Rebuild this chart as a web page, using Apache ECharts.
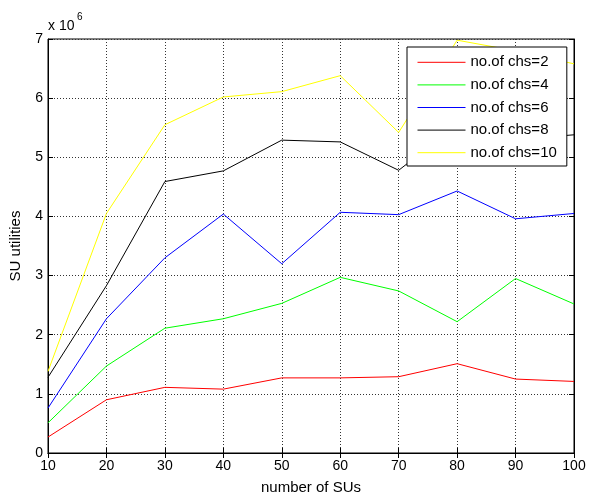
<!DOCTYPE html>
<html>
<head>
<meta charset="utf-8">
<script src="https://cdn.jsdelivr.net/npm/echarts@6/dist/echarts.min.js"></script>
<style>
  html, body { margin: 0; padding: 0; background: #fff; }
  #chart { width: 590px; height: 492px; }
</style>
</head>
<body>
<div id="chart"></div>
<script>
// Number of secondary users (x axis)
const numSUs = [10, 20, 30, 40, 50, 60, 70, 80, 90, 100];

// SU utilities (in units of 1e6) for each number of channels
const chs2  = [0.27, 0.90, 1.11, 1.08, 1.27, 1.27, 1.29, 1.51, 1.25, 1.21];
const chs4  = [0.51, 1.47, 2.11, 2.27, 2.53, 2.97, 2.74, 2.22, 2.95, 2.52];
const chs6  = [0.76, 2.27, 3.30, 4.04, 3.20, 4.07, 4.03, 4.43, 3.96, 4.05];
const chs8  = [1.28, 2.83, 4.59, 4.77, 5.29, 5.26, 4.78, 5.55, 5.30, 5.38];
const chs10 = [1.38, 4.05, 5.55, 6.02, 6.11, 6.38, 5.42, 6.98, 6.80, 6.58];

const seriesNames = ['no.of chs=2', 'no.of chs=4', 'no.of chs=6', 'no.of chs=8', 'no.of chs=10'];
const seriesData = [chs2, chs4, chs6, chs8, chs10];
const seriesColors = ['#ff0000', '#00ff00', '#0000ff', '#000000', '#ffff00'];

const xTicks = [10, 20, 30, 40, 50, 60, 70, 80, 90, 100];
const yTicks = [0, 1, 2, 3, 4, 5, 6, 7];

const FONT = '"Liberation Sans", Arial, sans-serif';

const chart = echarts.init(document.getElementById('chart'), null, { renderer: 'canvas' });

const gridLine = { show: true, lineStyle: { color: '#333', type: [1, 2], width: 1 } };
const tickStyle = { show: true, inside: true, length: 5, lineStyle: { color: '#000' } };

const option = {
  animation: false,
  backgroundColor: '#fff',
  textStyle: { fontFamily: FONT },
  graphic: [
    // exponent marker for the y axis
    { type: 'text', left: 48, top: 19, style: { text: 'x 10', font: '14px ' + FONT, fill: '#000' } },
    { type: 'text', left: 77, top: 12, style: { text: '6', font: '10px ' + FONT, fill: '#000' } }
  ],
  grid: {
    left: 48, right: 16, top: 39, bottom: 39,
    containLabel: false,
    outerBoundsMode: 'none',
    show: true, borderColor: '#000', borderWidth: 1, backgroundColor: '#fff'
  },
  legend: {
    orient: 'vertical',
    left: 407,
    top: 47,
    z: 10,
    padding: [4, 10, 2, 10],
    itemGap: 0,
    itemWidth: 48,
    itemHeight: 14,
    // line-only samples: the marker part of the icon is hidden
    itemStyle: { opacity: 0 },
    backgroundColor: '#fff',
    borderColor: '#000',
    borderWidth: 1,
    textStyle: { fontFamily: FONT, fontSize: 15, color: '#000', lineHeight: 22.6 },
    data: seriesNames.map((name, i) => ({
      name: name,
      lineStyle: { color: seriesColors[i], width: 1, opacity: 1 }
    }))
  },
  xAxis: [{
    type: 'value',
    min: 10, max: 100, interval: 10,
    name: 'number of SUs',
    nameLocation: 'middle',
    nameGap: 27,
    nameTextStyle: { fontFamily: FONT, fontSize: 15, color: '#000' },
    axisLine: { show: true, onZero: false, lineStyle: { color: '#000' } },
    axisTick: tickStyle,
    axisLabel: {
      fontFamily: FONT, fontSize: 14, color: '#000', margin: 6,
      formatter: v => (xTicks.indexOf(v) >= 0 ? String(v) : '')
    },
    splitLine: gridLine
  }, {
    type: 'value', position: 'top',
    min: 10, max: 100, interval: 10,
    axisLine: { show: true, lineStyle: { color: '#000' } },
    axisTick: tickStyle,
    axisLabel: { show: false },
    splitLine: { show: false }
  }],
  yAxis: [{
    type: 'value',
    min: 0, max: 7, interval: 1,
    name: 'SU utilities',
    nameLocation: 'middle',
    nameGap: 25,
    nameRotate: 90,
    nameTextStyle: { fontFamily: FONT, fontSize: 15, color: '#000' },
    axisLine: { show: true, onZero: false, lineStyle: { color: '#000' } },
    axisTick: tickStyle,
    axisLabel: {
      fontFamily: FONT, fontSize: 14, color: '#000', margin: 5,
      formatter: v => (yTicks.indexOf(v) >= 0 ? String(v) : '')
    },
    splitLine: gridLine
  }, {
    type: 'value', position: 'right',
    min: 0, max: 7, interval: 1,
    axisLine: { show: true, lineStyle: { color: '#000' } },
    axisTick: tickStyle,
    axisLabel: { show: false },
    splitLine: { show: false }
  }],
  series: seriesNames.map((name, i) => ({
    name: name,
    type: 'line',
    xAxisIndex: 0,
    yAxisIndex: 0,
    symbol: 'none',
    clip: true,
    z: 2,
    lineStyle: { color: seriesColors[i], width: 1 },
    itemStyle: { color: seriesColors[i] },
    data: numSUs.map((x, j) => [x, seriesData[i][j]])
  }))
};

chart.setOption(option);
</script>
</body>
</html>
